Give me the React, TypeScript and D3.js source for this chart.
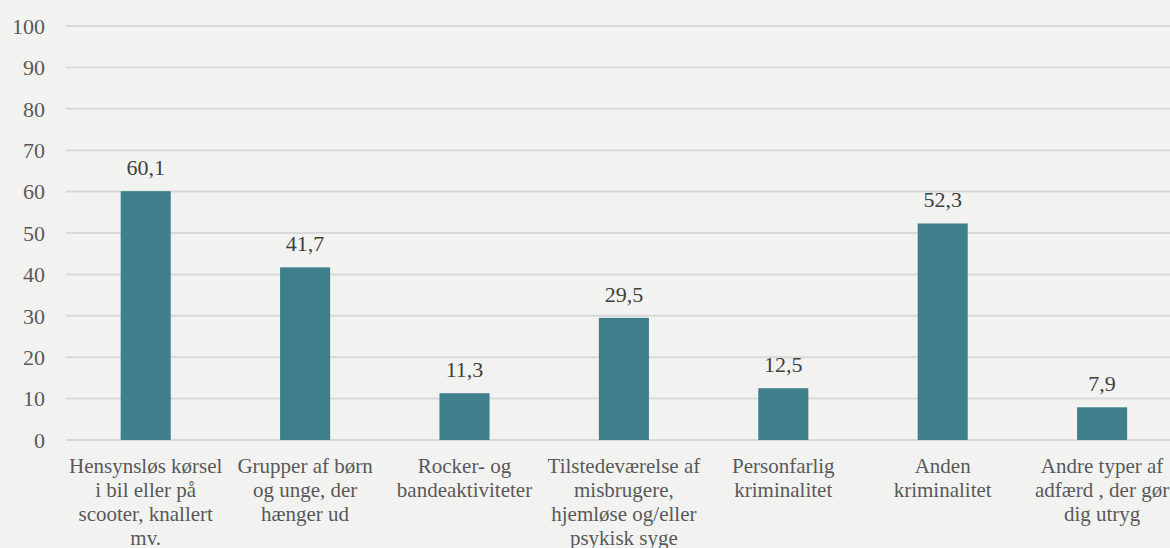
import React, { useEffect, useRef } from 'react';
import * as d3 from 'd3';

const categories = [
  'Hensynsløs kørsel\ni bil eller på\nscooter, knallert\nmv.',
  'Grupper af børn\nog unge, der\nhænger ud',
  'Rocker- og\nbandeaktiviteter',
  'Tilstedeværelse af\nmisbrugere,\nhjemløse og/eller\npsykisk syge',
  'Personfarlig\nkriminalitet',
  'Anden\nkriminalitet',
  'Andre typer af\nadfærd , der gør\ndig utryg',
];
const values = [60.1, 41.7, 11.3, 29.5, 12.5, 52.3, 7.9];
const yTicks = [0, 10, 20, 30, 40, 50, 60, 70, 80, 90, 100];

const App: React.FC = () => {
  const svgRef = useRef<SVGSVGElement>(null);

  useEffect(() => {
    if (!svgRef.current) return;
    const width = 1170;
    const height = 548;
    const font = '"Liberation Serif", "Times New Roman", serif';
    const textColor = '#595959';

    const svg = d3.select(svgRef.current);
    svg.selectAll('*').remove();
    svg.attr('width', width).attr('height', height);

    svg.append('rect')
      .attr('width', width)
      .attr('height', height)
      .attr('fill', '#f2f2f1');

    const x = d3.scaleBand<number>()
      .domain(d3.range(categories.length))
      .range([66, 66 + 7 * 159.4])
      .paddingInner(0.686)
      .paddingOuter(0.343);

    const y = d3.scaleLinear().domain([0, 100]).range([440, 26]);

    // grid
    svg.append('g')
      .selectAll('line')
      .data(yTicks)
      .enter()
      .append('line')
      .attr('x1', 66)
      .attr('x2', width)
      .attr('y1', d => y(d))
      .attr('y2', d => y(d))
      .attr('stroke', '#d9d9d9')
      .attr('stroke-width', 2);

    // y labels
    svg.append('g')
      .selectAll('text')
      .data(yTicks)
      .enter()
      .append('text')
      .attr('x', 45)
      .attr('y', d => y(d))
      .attr('dy', '0.35em')
      .attr('text-anchor', 'end')
      .attr('font-family', font)
      .attr('font-size', 22)
      .attr('fill', textColor)
      .text(d => d);

    // bars
    svg.append('g')
      .selectAll('rect')
      .data(values)
      .enter()
      .append('rect')
      .attr('x', (_, i) => x(i)!)
      .attr('y', d => y(d))
      .attr('width', x.bandwidth())
      .attr('height', d => y(0) - y(d))
      .attr('fill', '#3e7f8b');

    const fmt = d3.format('.1f');

    // value labels
    svg.append('g')
      .selectAll('text')
      .data(values)
      .enter()
      .append('text')
      .attr('x', (_, i) => x(i)! + x.bandwidth() / 2)
      .attr('y', d => y(d) - 16)
      .attr('text-anchor', 'middle')
      .attr('font-family', font)
      .attr('font-size', 22)
      .attr('fill', '#404040')
      .text(d => fmt(d).replace('.', ','));

    // category labels
    const cats = svg.append('g')
      .selectAll('text')
      .data(categories)
      .enter()
      .append('text')
      .attr('text-anchor', 'middle')
      .attr('font-family', font)
      .attr('font-size', 21)
      .attr('fill', textColor);

    cats.each(function (d, i) {
      const t = d3.select(this);
      d.split('\n').forEach((line, j) => {
        t.append('tspan')
          .attr('x', x(i)! + x.bandwidth() / 2)
          .attr('y', 473 + j * 24)
          .text(line);
      });
    });
  }, []);

  return (
    <div style={{ position: 'fixed', left: 0, top: 0, width: 1170, height: 548, overflow: 'hidden' }}>
      <svg ref={svgRef} style={{ display: 'block' }}></svg>
    </div>
  );
};

export default App;
